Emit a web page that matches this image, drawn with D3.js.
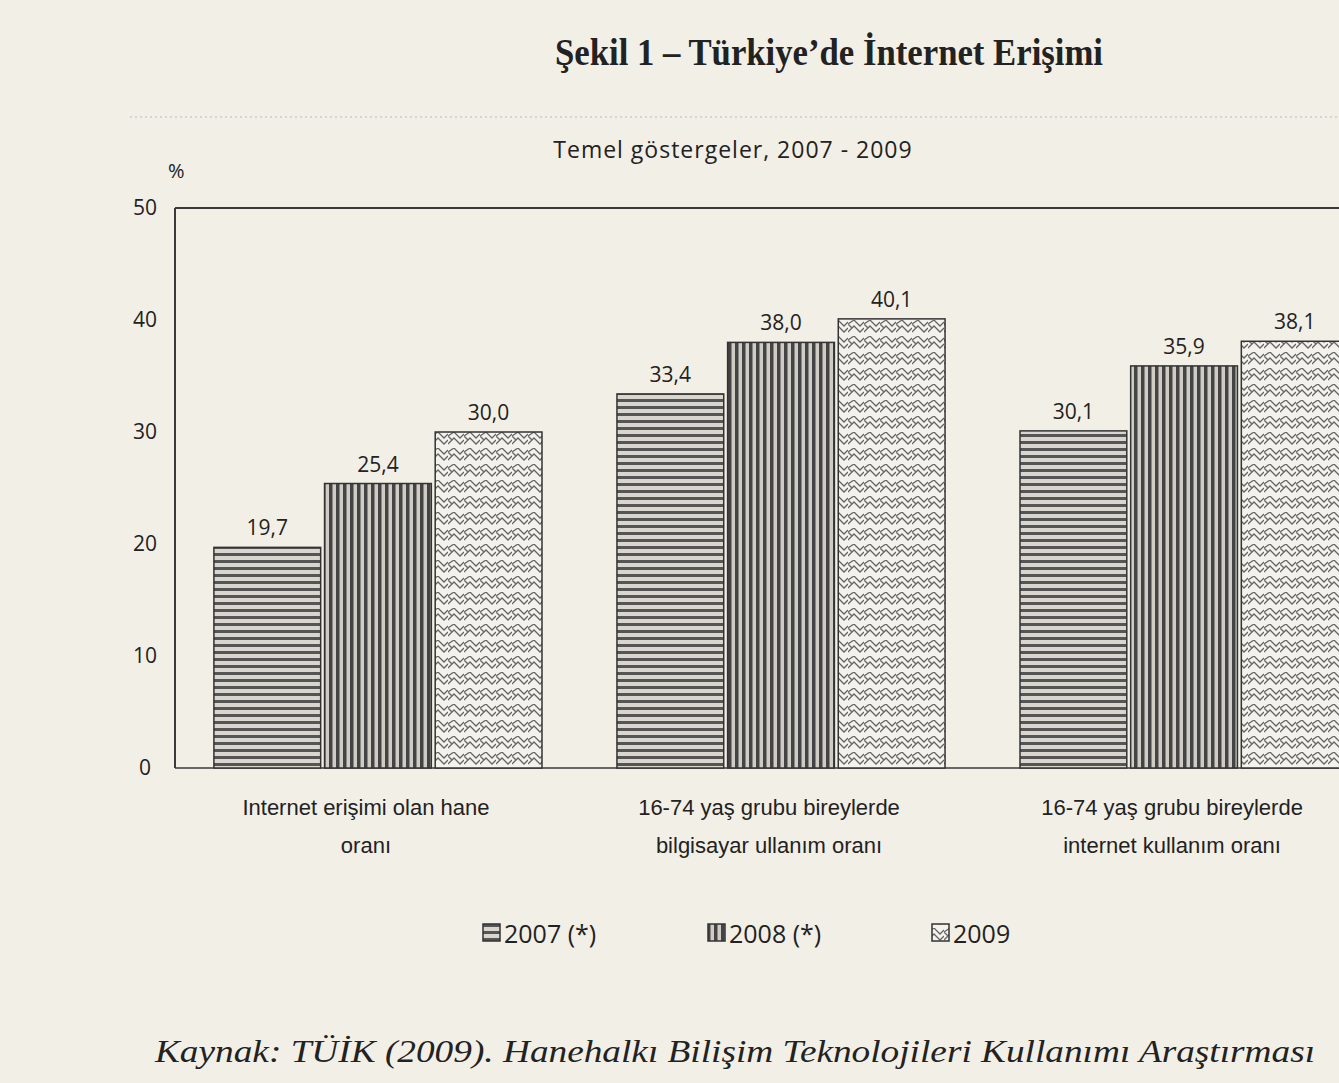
<!DOCTYPE html>
<html><head><meta charset="utf-8">
<script src="https://cdn.jsdelivr.net/npm/d3@7"></script>
<style>body{margin:0;background:#f2efe7;overflow:hidden}</style>
</head><body>
<svg id="c" width="1339" height="1083"></svg>
<script>
const categories = ["g1","g2","g3"];
const categoryLines = [["Internet erişimi olan hane","oranı"],["16-74 yaş grubu bireylerde","bilgisayar ullanım oranı"],["16-74 yaş grubu bireylerde","internet  kullanım oranı"]];
const seriesNames = ["2007 (*)","2008 (*)","2009"];
const v2007 = [19.7, 33.4, 30.1];
const v2008 = [25.4, 38.0, 35.9];
const v2009 = [30.0, 40.1, 38.1];
const yTicks = [0,10,20,30,40,50];
const series = [v2007, v2008, v2009];

const svg = d3.select("#c");
const defs = svg.append("defs");
const ink = "#3a3a3a";
const p1 = defs.append("pattern").attr("id","p0").attr("width",8).attr("height",7).attr("patternUnits","userSpaceOnUse");
p1.append("rect").attr("width",8).attr("height",7).attr("fill","#d9d6cf");
p1.append("rect").attr("y",0).attr("width",8).attr("height",3).attr("fill","#555");
const p2 = defs.append("pattern").attr("id","p1").attr("width",7).attr("height",8).attr("patternUnits","userSpaceOnUse");
p2.append("rect").attr("width",7).attr("height",8).attr("fill","#cfccc5");
p2.append("rect").attr("x",0).attr("width",3.5).attr("height",8).attr("fill","#444");
const p3 = defs.append("pattern").attr("id","p2").attr("width",16).attr("height",16).attr("patternUnits","userSpaceOnUse");
p3.append("rect").attr("width",16).attr("height",16).attr("fill","#f4f2ec");
p3.append("path").attr("d","M0,4 L6,0 M0,12 L6,6 L12,12 L16,8 M6,0 L12,6 L16,2 M0,4 L4,8").attr("stroke","#666").attr("stroke-width",1.3).attr("fill","none");
const fills = ["url(#p0)","url(#p1)","url(#p2)"];

const y = d3.scaleLinear().domain([0,50]).range([768,208]);
const x0 = d3.scaleBand().domain(categories).range([175,1387]).paddingInner(0.186).paddingOuter(0.0965);
const x1 = d3.scaleBand().domain([0,1,2]).range([0,x0.bandwidth()]).paddingInner(0.035);

svg.append("text").attr("x",829).attr("y",65).attr("text-anchor","middle")
 .attr("font-family","Liberation Serif").attr("font-weight","bold").attr("font-size",37).attr("fill","#222")
 .attr("textLength",548).attr("lengthAdjust","spacingAndGlyphs")
 .text("Şekil 1 – Türkiye’de İnternet Erişimi");
svg.append("line").attr("x1",130).attr("x2",1339).attr("y1",117).attr("y2",117).attr("stroke","#bbb").attr("stroke-dasharray","2,3");
svg.append("text").attr("x",733).attr("y",158).attr("text-anchor","middle")
 .attr("font-family","Open Sans").attr("font-size",23).attr("fill","#222").attr("letter-spacing",1)
 .text("Temel göstergeler, 2007 - 2009");
svg.append("text").attr("x",168).attr("y",178).attr("font-family","Open Sans").attr("font-size",20).attr("fill","#222").text("%");

svg.append("line").attr("x1",175).attr("x2",1339).attr("y1",208).attr("y2",208).attr("stroke",ink).attr("stroke-width",2);
svg.append("line").attr("x1",175).attr("x2",175).attr("y1",208).attr("y2",768).attr("stroke",ink).attr("stroke-width",2);
svg.append("line").attr("x1",175).attr("x2",1339).attr("y1",768).attr("y2",768).attr("stroke",ink).attr("stroke-width",1.5);

const ya = svg.append("g").attr("transform","translate(175,0)")
 .call(d3.axisLeft(y).tickValues(yTicks).tickSize(0).tickPadding(30).tickFormat(d3.format("d")));
ya.select(".domain").remove();
ya.selectAll("text").attr("font-family","Open Sans").attr("font-size",21).attr("fill","#222").attr("text-anchor","middle");

categories.forEach((c,i)=>{
  series.forEach((s,j)=>{
    const bx = x0(c)+x1(j), v = s[i];
    svg.append("rect").attr("x",bx).attr("y",y(v)).attr("width",x1.bandwidth()).attr("height",y(0)-y(v))
      .attr("fill",fills[j]).attr("stroke","#333").attr("stroke-width",1.5);
    svg.append("text").attr("x",bx+x1.bandwidth()/2).attr("y",y(v)-12).attr("text-anchor","middle")
      .attr("font-family","Open Sans").attr("font-size",21).attr("fill","#222").text(d3.format(".1f")(v).replace(".",","));
  });
  categoryLines[i].forEach((t,k)=>{
    svg.append("text").attr("x",x0(c)+x0.bandwidth()/2-12).attr("y",815+k*38).attr("text-anchor","middle")
      .attr("font-family","Liberation Sans").attr("font-size",22).attr("fill","#222").text(t);
  });
});

const lx = [483,708,932];
seriesNames.forEach((n,j)=>{
  svg.append("rect").attr("x",lx[j]).attr("y",924).attr("width",17).attr("height",17).attr("fill",fills[j]).attr("stroke","#333").attr("stroke-width",1.5);
  svg.append("text").attr("x",lx[j]+21).attr("y",943).attr("font-family","Open Sans").attr("font-size",25).attr("fill","#222").text(n);
});

svg.append("text").attr("x",155).attr("y",1062).attr("font-family","Liberation Serif").attr("font-style","italic").attr("font-size",31).attr("fill","#222")
 .attr("textLength",1160).attr("lengthAdjust","spacingAndGlyphs")
 .text("Kaynak: TÜİK (2009). Hanehalkı Bilişim Teknolojileri Kullanımı Araştırması");
</script>
</body></html>
